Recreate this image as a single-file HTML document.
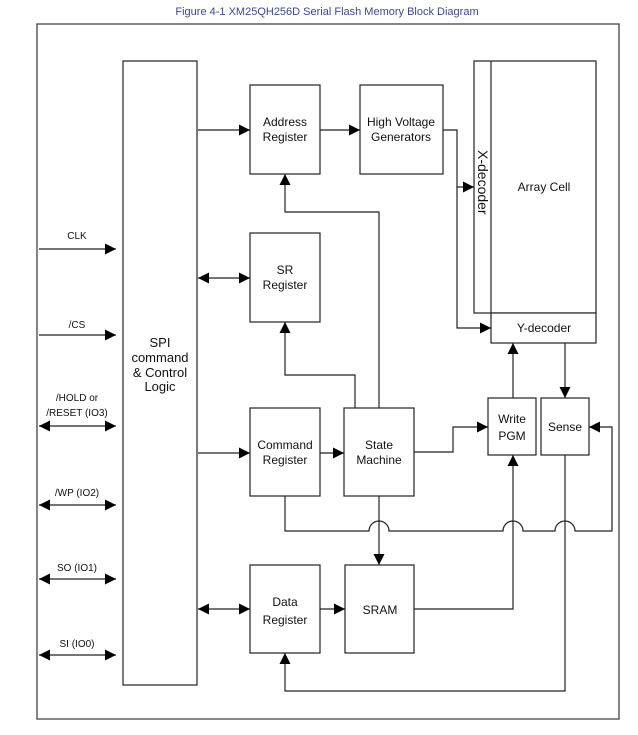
<!DOCTYPE html>
<html><head><style>
html,body{margin:0;padding:0;background:#fff;}
svg{display:block;font-family:"Liberation Sans",Arial,sans-serif;}
</style></head><body>
<svg width="638" height="735" viewBox="0 0 638 735" xmlns="http://www.w3.org/2000/svg">
<defs>
<marker id="a" viewBox="0 0 10 10" refX="10" refY="5" markerWidth="16" markerHeight="11" markerUnits="userSpaceOnUse" orient="auto-start-reverse"><path d="M0,0 L10,5 L0,10 z" fill="#000"/></marker>
</defs>
<text x="327" y="15" font-size="11" fill="#3b4a8c" text-anchor="middle">Figure 4-1 XM25QH256D Serial Flash Memory Block Diagram</text>
<rect x="37" y="24" width="582" height="695" fill="none" stroke="#444" stroke-width="1.3"/>
<g fill="#fff" stroke="#222" stroke-width="1.2">
<rect x="123" y="61" width="74" height="624"/>
<rect x="250" y="85" width="70" height="89"/>
<rect x="360" y="85" width="83" height="89"/>
<rect x="474" y="61" width="122" height="252"/>
<line x1="491" y1="61" x2="491" y2="313"/>
<rect x="491" y="313" width="105" height="30"/>
<rect x="250" y="233" width="70" height="89"/>
<rect x="250" y="408" width="70" height="88"/>
<rect x="344" y="408" width="70" height="88"/>
<rect x="488" y="398" width="48" height="57"/>
<rect x="541" y="398" width="48" height="57"/>
<rect x="250" y="565" width="70" height="88"/>
<rect x="345" y="565" width="69" height="88"/>
</g>
<g fill="none" stroke="#222" stroke-width="1.2">
<line x1="198" y1="130" x2="250" y2="130" marker-end="url(#a)"/>
<line x1="320" y1="130" x2="360" y2="130" marker-end="url(#a)"/>
<line x1="198" y1="278" x2="250" y2="278" marker-start="url(#a)" marker-end="url(#a)"/>
<line x1="198" y1="453" x2="250" y2="453" marker-end="url(#a)"/>
<line x1="198" y1="609" x2="250" y2="609" marker-start="url(#a)" marker-end="url(#a)"/>
<line x1="320" y1="453" x2="344" y2="453" marker-end="url(#a)"/>
<line x1="320" y1="609" x2="345" y2="609" marker-end="url(#a)"/>
<line x1="39" y1="249" x2="116" y2="249" marker-end="url(#a)"/>
<line x1="39" y1="335" x2="116" y2="335" marker-end="url(#a)"/>
<line x1="39" y1="426" x2="116" y2="426" marker-start="url(#a)" marker-end="url(#a)"/>
<line x1="39" y1="505" x2="116" y2="505" marker-start="url(#a)" marker-end="url(#a)"/>
<line x1="39" y1="579" x2="116" y2="579" marker-start="url(#a)" marker-end="url(#a)"/>
<line x1="39" y1="655" x2="116" y2="655" marker-start="url(#a)" marker-end="url(#a)"/>
<polyline points="443,130 457,130 457,187 474,187" marker-end="url(#a)"/>
<polyline points="457,187 457,328 491,328" marker-end="url(#a)"/>
<polyline points="379,408 379,212 285,212 285,174" marker-end="url(#a)"/>
<polyline points="355,408 355,375 285,375 285,322" marker-end="url(#a)"/>
<polyline points="414,452 453,452 453,427 488,427" marker-end="url(#a)"/>
<line x1="513" y1="398" x2="513" y2="343" marker-end="url(#a)"/>
<line x1="565" y1="343" x2="565" y2="398" marker-end="url(#a)"/>
<line x1="379" y1="496" x2="379" y2="565" marker-end="url(#a)"/>
<polyline points="414,609 513,609 513,455" marker-end="url(#a)"/>
<polyline points="565,455 565,691 285,691 285,653" marker-end="url(#a)"/>
<path d="M285,496 L285,531 L369,531 A10,10 0 0 1 389,531 L503,531 A10,10 0 0 1 523,531 L555,531 A10,10 0 0 1 575,531 L612,531 L612,427 L589,427" marker-end="url(#a)"/>
</g>
<g font-size="12" text-anchor="middle" fill="#111">
<text x="285" y="126">Address</text><text x="285" y="141">Register</text>
<text x="401" y="126">High Voltage</text><text x="401" y="141">Generators</text>
<text x="285" y="274">SR</text><text x="285" y="289">Register</text>
<text x="285" y="449">Command</text><text x="285" y="464">Register</text>
<text x="379" y="449">State</text><text x="379" y="464">Machine</text>
<text x="512" y="423">Write</text><text x="512" y="440">PGM</text>
<text x="565" y="431">Sense</text>
<text x="285" y="606">Data</text><text x="285" y="624">Register</text>
<text x="380" y="614">SRAM</text>
<text x="544" y="191">Array Cell</text>
<text x="544" y="332">Y-decoder</text>
<text x="160" y="347" font-size="13">SPI</text>
<text x="160" y="362" font-size="13">command</text>
<text x="160" y="377" font-size="13">&amp; Control</text>
<text x="160" y="391" font-size="13">Logic</text>
<text transform="translate(478,150) rotate(90)" font-size="14" text-anchor="start">X-decoder</text>
</g>
<g font-size="10" text-anchor="middle" fill="#111">
<text x="77" y="239">CLK</text>
<text x="77" y="328">/CS</text>
<text x="77" y="401">/HOLD or</text>
<text x="77" y="416">/RESET (IO3)</text>
<text x="77" y="496">/WP (IO2)</text>
<text x="77" y="571">SO (IO1)</text>
<text x="77" y="647">SI (IO0)</text>
</g>
</svg>
</body></html>
